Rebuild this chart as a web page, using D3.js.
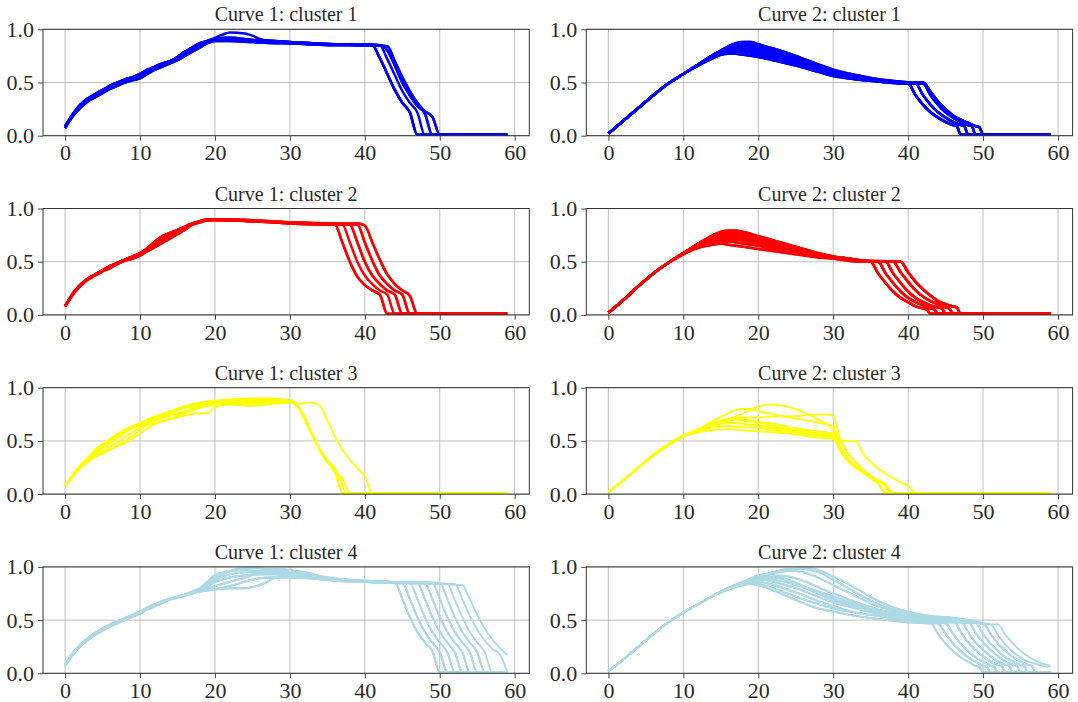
<!DOCTYPE html>
<html>
<head>
<meta charset="utf-8">
<script src="https://cdn.jsdelivr.net/npm/d3@7"></script>
<style>
body { margin: 0; background: #fff; }
svg text { font-family: "Liberation Serif", "DejaVu Serif", serif; }
</style>
</head>
<body>
<svg id="chart" width="1078" height="702"></svg>
<script>
const xTicks = [0, 10, 20, 30, 40, 50, 60];
const yTicks = [0, 0.5, 1];
const yTickLabels = ["0.0", "0.5", "1.0"];
const titles = [
    "Curve 1: cluster 1", "Curve 2: cluster 1",
    "Curve 1: cluster 2", "Curve 2: cluster 2",
    "Curve 1: cluster 3", "Curve 2: cluster 3",
    "Curve 1: cluster 4", "Curve 2: cluster 4"
];
const clusterColors = ["#0000ff", "#ff0000", "#ffff00", "#add8e6"];

//curves are a head (rise + plateau) joined to a tail (the drop)
//cluster 1
const c1k1Heads = [
    [[0,0.08],[1,0.19],[2,0.27],[3,0.33],[4,0.37],[5,0.41],[6,0.45],[7,0.48],[8,0.51],[9,0.53],[10,0.56],[11,0.6],[12,0.63],[13,0.66],[14,0.69],[15,0.72],[16,0.77],[17,0.81],[18,0.85],[19,0.88],[20,0.9],[22,0.9],[25,0.89],[28,0.88],[30,0.87],[33,0.86],[36,0.86],[40,0.85]],
    [[0,0.09],[1,0.2],[2,0.29],[3,0.35],[4,0.39],[5,0.43],[6,0.47],[7,0.5],[8,0.53],[9,0.55],[10,0.58],[11,0.62],[12,0.65],[13,0.68],[14,0.7],[15,0.74],[16,0.79],[17,0.83],[18,0.87],[19,0.89],[20,0.91],[22,0.92],[25,0.9],[28,0.89],[30,0.88],[33,0.87],[36,0.86],[40,0.86]],
    [[0,0.08],[1,0.19],[2,0.28],[3,0.34],[4,0.38],[5,0.42],[6,0.46],[7,0.49],[8,0.52],[9,0.54],[10,0.57],[11,0.61],[12,0.64],[13,0.67],[14,0.7],[15,0.73],[16,0.78],[17,0.82],[18,0.86],[19,0.89],[20,0.92],[21,0.95],[22,0.97],[24,0.96],[25,0.94],[26,0.91],[28,0.88],[30,0.87],[33,0.86],[36,0.86],[40,0.85]],
    [[0,0.07],[1,0.18],[2,0.26],[3,0.32],[4,0.36],[5,0.4],[6,0.44],[7,0.47],[8,0.5],[9,0.52],[10,0.54],[11,0.58],[12,0.62],[13,0.65],[14,0.68],[15,0.71],[16,0.75],[17,0.79],[18,0.83],[19,0.87],[20,0.89],[22,0.89],[25,0.88],[28,0.87],[30,0.87],[33,0.86],[36,0.85],[40,0.85]]
];
const c1k1Tails = [
    [[41,0.85],[42,0.73],[43,0.58],[44,0.43],[45,0.31],[46,0.22],[47,0.01],[59,0.01]],
    [[42,0.85],[43,0.72],[44,0.57],[45,0.42],[46,0.31],[47,0.22],[48,0.01],[59,0.01]],
    [[42,0.85],[43,0.8],[44,0.66],[45,0.5],[46,0.38],[47,0.28],[48,0.21],[49,0.01],[59,0.01]],
    [[43,0.84],[44,0.7],[45,0.55],[46,0.42],[47,0.31],[48,0.23],[49,0.18],[50,0.01],[59,0.01]]
];
const c1k1Pairs = [[0,0],[1,1],[2,2],[3,3],[0,2],[1,3],[3,0],[1,0]];

const c2k1Heads = [
    [[0,0.02],[2,0.14],[4,0.26],[6,0.38],[8,0.49],[10,0.58],[12,0.66],[14,0.73],[15,0.76],[16,0.77],[17,0.77],[18,0.76],[20,0.74],[22,0.71],[25,0.66],[28,0.6],[30,0.56],[33,0.53],[36,0.51],[40,0.49]],
    [[0,0.02],[2,0.14],[4,0.26],[6,0.38],[8,0.49],[10,0.58],[12,0.67],[14,0.76],[16,0.84],[17,0.87],[18,0.88],[19,0.88],[20,0.86],[22,0.82],[25,0.75],[28,0.67],[30,0.62],[33,0.57],[36,0.53],[40,0.5]],
    [[0,0.02],[2,0.14],[4,0.26],[6,0.38],[8,0.49],[10,0.58],[12,0.67],[14,0.75],[16,0.8],[17,0.82],[18,0.82],[20,0.8],[22,0.76],[25,0.7],[28,0.63],[30,0.59],[33,0.55],[36,0.52],[40,0.49]],
    [[0,0.02],[2,0.14],[4,0.26],[6,0.38],[8,0.49],[10,0.58],[12,0.67],[14,0.76],[16,0.82],[17,0.85],[18,0.85],[20,0.83],[22,0.79],[25,0.72],[28,0.65],[30,0.6],[33,0.56],[36,0.52],[40,0.5]],
    [[0,0.02],[2,0.14],[4,0.26],[6,0.38],[8,0.49],[10,0.58],[12,0.66],[14,0.74],[16,0.78],[17,0.79],[18,0.79],[20,0.77],[22,0.73],[25,0.68],[28,0.61],[30,0.57],[33,0.54],[36,0.51],[40,0.49]],
    [[0,0.02],[2,0.14],[4,0.26],[6,0.38],[8,0.49],[10,0.58],[12,0.67],[14,0.75],[16,0.81],[17,0.83],[18,0.84],[20,0.82],[22,0.78],[25,0.71],[28,0.64],[30,0.6],[33,0.55],[36,0.52],[40,0.49]],
    [[0,0.02],[2,0.14],[4,0.26],[6,0.38],[8,0.49],[10,0.58],[12,0.67],[14,0.76],[16,0.83],[17,0.86],[18,0.87],[19,0.86],[20,0.85],[22,0.81],[25,0.74],[28,0.66],[30,0.61],[33,0.56],[36,0.53],[40,0.5]],
    [[0,0.02],[2,0.14],[4,0.26],[6,0.38],[8,0.49],[10,0.58],[12,0.66],[14,0.74],[16,0.79],[17,0.8],[18,0.8],[20,0.78],[22,0.74],[25,0.69],[28,0.62],[30,0.58],[33,0.54],[36,0.51],[40,0.49]],
    [[0,0.02],[2,0.14],[4,0.26],[6,0.38],[8,0.49],[10,0.58],[12,0.66],[14,0.74],[15,0.77],[16,0.78],[17,0.78],[18,0.77],[20,0.75],[22,0.72],[25,0.67],[28,0.61],[30,0.57],[33,0.53],[36,0.51],[40,0.49]]
];
const c2k1Tails = [
    [[41,0.38],[42,0.29],[43,0.22],[44,0.17],[45,0.13],[46,0.1],[46.5,0.09],[47,0.01],[59,0.01]],
    [[41,0.49],[42,0.38],[43,0.29],[44,0.22],[45,0.17],[46,0.13],[47,0.1],[47.5,0.09],[48,0.01],[59,0.01]],
    [[42,0.49],[43,0.38],[44,0.29],[45,0.22],[46,0.17],[47,0.13],[48,0.1],[48.5,0.09],[49,0.01],[59,0.01]],
    [[42,0.5],[43,0.41],[44,0.32],[45,0.25],[46,0.19],[47,0.15],[48,0.12],[49,0.09],[49.5,0.08],[50,0.01],[59,0.01]]
];
const c2k1Pairs = [[0,0],[1,3],[2,1],[3,2],[4,0],[1,1],[2,2],[0,3],[3,0],[4,3],[5,1],[6,2],[7,0],[8,3]];

//cluster 2
const c1k2Heads = [
    [[0,0.08],[1,0.19],[2,0.27],[3,0.33],[4,0.37],[5,0.41],[6,0.44],[7,0.48],[8,0.51],[9,0.53],[10,0.56],[11,0.6],[12,0.64],[13,0.68],[14,0.72],[15,0.76],[16,0.8],[17,0.85],[18,0.87],[19,0.89],[20,0.89],[25,0.88],[30,0.86],[35,0.85]],
    [[0,0.08],[1,0.2],[2,0.28],[3,0.34],[4,0.38],[5,0.42],[6,0.46],[7,0.49],[8,0.52],[9,0.55],[10,0.58],[11,0.63],[12,0.69],[13,0.74],[14,0.77],[15,0.8],[16,0.83],[17,0.86],[18,0.88],[19,0.9],[20,0.9],[25,0.89],[30,0.87],[35,0.86]],
    [[0,0.08],[1,0.19],[2,0.28],[3,0.34],[4,0.38],[5,0.42],[6,0.45],[7,0.49],[8,0.52],[9,0.54],[10,0.57],[11,0.61],[12,0.66],[13,0.71],[14,0.75],[15,0.78],[16,0.82],[17,0.85],[18,0.88],[19,0.89],[20,0.9],[25,0.88],[30,0.87],[35,0.85]]
];
const c1k2Tails = [
    [[36,0.85],[37,0.68],[38,0.5],[39,0.36],[40,0.28],[41,0.23],[42,0.19],[43,0.01],[59,0.01]],
    [[37,0.85],[38,0.68],[39,0.5],[40,0.37],[41,0.29],[42,0.23],[43,0.19],[44,0.01],[59,0.01]],
    [[38,0.85],[39,0.68],[40,0.5],[41,0.37],[42,0.29],[43,0.23],[44,0.19],[45,0.01],[59,0.01]],
    [[39,0.85],[40,0.68],[41,0.51],[42,0.37],[43,0.29],[44,0.23],[45,0.19],[46,0.01],[59,0.01]],
    [[39,0.86],[40,0.84],[41,0.68],[42,0.52],[43,0.38],[44,0.29],[45,0.23],[46,0.18],[47,0.01],[59,0.01]]
];
const c1k2Pairs = [[0,0],[1,1],[2,2],[0,3],[1,4],[2,0],[1,2],[0,4],[2,3]];

const c2k2Heads = [
    [[0,0.02],[2,0.14],[4,0.27],[6,0.39],[8,0.49],[10,0.57],[12,0.63],[14,0.66],[15,0.67],[16,0.66],[18,0.64],[20,0.62],[22,0.6],[25,0.57],[28,0.54],[30,0.53],[32,0.51],[34,0.5]],
    [[0,0.02],[2,0.14],[4,0.27],[6,0.39],[8,0.49],[10,0.58],[12,0.67],[14,0.75],[15,0.78],[16,0.79],[17,0.79],[18,0.78],[20,0.74],[22,0.7],[25,0.64],[28,0.58],[30,0.55],[32,0.53],[34,0.51]],
    [[0,0.02],[2,0.14],[4,0.27],[6,0.39],[8,0.49],[10,0.58],[12,0.65],[14,0.71],[15,0.73],[16,0.73],[17,0.73],[18,0.72],[20,0.69],[22,0.66],[25,0.61],[28,0.56],[30,0.54],[32,0.52],[34,0.5]],
    [[0,0.02],[2,0.14],[4,0.27],[6,0.39],[8,0.49],[10,0.58],[12,0.66],[14,0.73],[15,0.76],[16,0.76],[17,0.76],[18,0.75],[20,0.72],[22,0.68],[25,0.62],[28,0.57],[30,0.54],[32,0.52],[34,0.51]],
    [[0,0.02],[2,0.14],[4,0.27],[6,0.39],[8,0.49],[10,0.57],[12,0.64],[14,0.68],[15,0.69],[16,0.69],[18,0.67],[20,0.65],[22,0.62],[25,0.59],[28,0.55],[30,0.53],[32,0.52],[34,0.5]],
    [[0,0.02],[2,0.14],[4,0.27],[6,0.39],[8,0.49],[10,0.57],[12,0.65],[14,0.7],[15,0.71],[16,0.71],[18,0.7],[20,0.67],[22,0.64],[25,0.6],[28,0.56],[30,0.54],[32,0.52],[34,0.5]],
    [[0,0.02],[2,0.14],[4,0.27],[6,0.39],[8,0.49],[10,0.58],[12,0.66],[14,0.72],[15,0.74],[16,0.75],[17,0.75],[18,0.74],[20,0.71],[22,0.67],[25,0.62],[28,0.57],[30,0.54],[32,0.52],[34,0.51]],
    [[0,0.02],[2,0.14],[4,0.27],[6,0.39],[8,0.49],[10,0.58],[12,0.67],[14,0.74],[15,0.77],[16,0.78],[17,0.78],[18,0.77],[20,0.73],[22,0.69],[25,0.63],[28,0.58],[30,0.55],[32,0.53],[34,0.51]]
];
const c2k2Tails = [
    [[35,0.5],[36,0.39],[37,0.3],[38,0.22],[39,0.16],[40,0.12],[41,0.08],[42,0.06],[42.5,0.05],[43,0.01],[59,0.01]],
    [[36,0.5],[37,0.39],[38,0.3],[39,0.22],[40,0.16],[41,0.12],[42,0.09],[43,0.06],[43.5,0.05],[44,0.01],[59,0.01]],
    [[37,0.5],[38,0.39],[39,0.3],[40,0.22],[41,0.16],[42,0.12],[43,0.09],[44,0.07],[44.5,0.06],[45,0.01],[59,0.01]],
    [[38,0.5],[39,0.4],[40,0.31],[41,0.23],[42,0.17],[43,0.13],[44,0.1],[45,0.07],[45.5,0.06],[46,0.01],[59,0.01]],
    [[39,0.5],[40,0.4],[41,0.31],[42,0.24],[43,0.18],[44,0.13],[45,0.1],[46,0.08],[46.5,0.07],[47,0.01],[59,0.01]]
];
const c2k2Pairs = [[0,0],[1,1],[2,2],[3,3],[4,4],[1,0],[2,3],[3,1],[0,4],[4,2],[1,4],[2,0],[5,1],[6,3],[7,2],[5,4]];

//cluster 3
const c1k3Heads = [
    [[0,0.08],[1,0.18],[2,0.27],[3,0.34],[4,0.42],[5,0.47],[6,0.52],[7,0.57],[8,0.61],[9,0.64],[10,0.67],[12,0.73],[14,0.78],[16,0.83],[18,0.86],[20,0.88],[22,0.89],[25,0.9],[27,0.9],[29,0.89],[30,0.88]],
    [[0,0.08],[1,0.17],[2,0.26],[3,0.32],[4,0.38],[5,0.43],[6,0.48],[7,0.53],[8,0.58],[9,0.62],[10,0.66],[12,0.71],[14,0.76],[16,0.81],[18,0.84],[20,0.86],[22,0.87],[25,0.88],[28,0.88],[30,0.87]],
    [[0,0.08],[1,0.16],[2,0.24],[3,0.3],[4,0.35],[5,0.38],[6,0.42],[7,0.46],[8,0.5],[9,0.55],[10,0.61],[11,0.65],[12,0.67],[14,0.7],[16,0.74],[18,0.76],[19,0.76],[20,0.82],[22,0.84],[25,0.83],[28,0.85],[30,0.86]],
    [[0,0.08],[1,0.17],[2,0.25],[3,0.31],[4,0.36],[5,0.4],[6,0.45],[7,0.49],[8,0.54],[9,0.58],[10,0.63],[12,0.69],[14,0.74],[16,0.78],[18,0.82],[20,0.84],[22,0.85],[25,0.86],[28,0.86],[30,0.86]],
    [[0,0.08],[1,0.18],[2,0.27],[3,0.33],[4,0.39],[5,0.45],[6,0.5],[7,0.55],[8,0.59],[9,0.62],[10,0.65],[12,0.7],[14,0.74],[16,0.77],[17,0.81],[18,0.83],[20,0.85],[22,0.85],[25,0.85],[28,0.86],[30,0.88]],
    [[0,0.08],[1,0.17],[2,0.25],[3,0.31],[4,0.36],[5,0.39],[6,0.42],[7,0.45],[8,0.48],[9,0.52],[10,0.57],[12,0.66],[14,0.71],[16,0.76],[18,0.81],[20,0.84],[23,0.86],[26,0.87],[30,0.88]],
    [[0,0.08],[1,0.18],[2,0.26],[3,0.33],[4,0.4],[5,0.46],[6,0.51],[7,0.56],[8,0.6],[9,0.63],[10,0.66],[12,0.72],[14,0.77],[16,0.82],[18,0.85],[20,0.87],[22,0.88],[24,0.89],[27,0.89],[30,0.88]]
];
const c1k3Tails = [
    [[31,0.84],[32,0.72],[33,0.56],[34,0.41],[35,0.3],[36,0.22],[37,0.01],[59,0.01]],
    [[31,0.83],[32,0.7],[33,0.55],[34,0.41],[35,0.31],[36,0.24],[37,0.01],[59,0.01]],
    [[31,0.83],[32,0.7],[33,0.55],[34,0.42],[35,0.32],[36,0.2],[37,0.15],[38,0.01],[59,0.01]],
    [[31,0.85],[33,0.86],[34,0.83],[35,0.69],[36,0.54],[37,0.42],[38,0.32],[39,0.24],[40,0.17],[41,0.01],[59,0.01]],
    [[31,0.84],[32,0.71],[33,0.56],[34,0.42],[35,0.31],[36,0.23],[36.5,0.18],[37.5,0.01],[59,0.01]]
];
const c1k3Pairs = [[0,0],[1,1],[2,3],[3,2],[4,0],[5,4],[6,1]];

const c2k3Heads = [
    [[0,0.02],[2,0.13],[4,0.25],[6,0.36],[8,0.46],[10,0.54],[12,0.58],[14,0.6],[16,0.61],[18,0.6],[20,0.59],[22,0.58],[25,0.56],[28,0.53],[30,0.52]],
    [[0,0.02],[2,0.13],[4,0.25],[6,0.36],[8,0.46],[10,0.54],[12,0.59],[14,0.63],[16,0.64],[18,0.63],[20,0.62],[22,0.6],[25,0.58],[28,0.55],[30,0.53]],
    [[0,0.02],[2,0.13],[4,0.25],[6,0.37],[8,0.47],[10,0.55],[12,0.6],[14,0.65],[16,0.67],[18,0.66],[20,0.64],[22,0.62],[25,0.6],[28,0.57],[30,0.55]],
    [[0,0.02],[2,0.13],[4,0.25],[6,0.37],[8,0.47],[10,0.55],[12,0.61],[14,0.67],[16,0.7],[17,0.71],[18,0.7],[20,0.68],[22,0.66],[25,0.62],[28,0.59],[30,0.57]],
    [[0,0.02],[2,0.13],[4,0.25],[6,0.37],[8,0.47],[10,0.55],[12,0.61],[14,0.67],[16,0.71],[18,0.72],[20,0.72],[22,0.73],[24,0.73],[26,0.74],[28,0.75],[30,0.74]],
    [[0,0.02],[2,0.13],[4,0.25],[6,0.37],[8,0.47],[10,0.55],[12,0.61],[14,0.69],[16,0.76],[17,0.79],[18,0.8],[19,0.8],[20,0.78],[22,0.75],[25,0.71],[28,0.67],[30,0.64]],
    [[0,0.02],[2,0.13],[4,0.25],[6,0.37],[8,0.47],[10,0.55],[12,0.6],[14,0.66],[16,0.7],[18,0.76],[20,0.82],[21,0.84],[22,0.84],[24,0.82],[26,0.77],[28,0.7],[30,0.6]],
    [[0,0.02],[2,0.13],[4,0.25],[6,0.36],[8,0.46],[10,0.54],[12,0.6],[14,0.65],[16,0.69],[17,0.7],[18,0.69],[20,0.67],[22,0.64],[25,0.6],[28,0.56],[30,0.54]]
];
const c2k3Tails = [
    [[31,0.4],[32,0.31],[33,0.25],[34,0.2],[35,0.15],[36,0.1],[37,0.01],[59,0.01]],
    [[31,0.43],[32,0.33],[33,0.26],[34,0.21],[35,0.16],[36,0.12],[37,0.08],[37.5,0.01],[59,0.01]],
    [[31,0.5],[32,0.38],[33,0.3],[34,0.23],[35,0.17],[36,0.13],[37,0.09],[38,0.01],[59,0.01]],
    [[31,0.5],[33,0.5],[34,0.38],[35,0.3],[36,0.24],[37,0.19],[38,0.15],[39,0.11],[40,0.08],[41,0.01],[59,0.01]]
];
const c2k3Pairs = [[0,0],[1,1],[2,0],[3,2],[4,2],[5,1],[6,0],[7,3],[2,1]];

//cluster 4
const c1k4Heads = [
    [[0,0.07],[1,0.18],[2,0.26],[3,0.32],[4,0.37],[5,0.41],[6,0.45],[7,0.48],[8,0.51],[9,0.54],[10,0.57],[11,0.61],[12,0.64],[13,0.67],[14,0.7],[15,0.72],[16,0.74],[17,0.76],[18,0.79],[19,0.84],[20,0.89],[21,0.93],[22,0.96],[23,0.98],[25,0.99],[27,0.98],[30,0.95],[33,0.92],[36,0.89],[40,0.87],[43,0.86]],
    [[0,0.07],[1,0.17],[2,0.25],[3,0.31],[4,0.36],[5,0.4],[6,0.44],[7,0.47],[8,0.5],[9,0.53],[10,0.56],[11,0.6],[12,0.63],[13,0.66],[14,0.69],[15,0.71],[16,0.73],[17,0.75],[18,0.77],[20,0.79],[22,0.8],[24,0.8],[26,0.83],[27,0.86],[28,0.9],[30,0.91],[33,0.9],[36,0.88],[40,0.86],[43,0.85]],
    [[0,0.08],[1,0.19],[2,0.27],[3,0.33],[4,0.38],[5,0.42],[6,0.46],[7,0.49],[8,0.52],[9,0.55],[10,0.58],[11,0.62],[12,0.65],[13,0.68],[14,0.7],[15,0.72],[16,0.74],[17,0.76],[18,0.78],[20,0.86],[22,0.9],[24,0.92],[26,0.93],[28,0.93],[30,0.92],[33,0.9],[36,0.88],[40,0.86],[43,0.85]],
    [[0,0.07],[1,0.18],[2,0.26],[3,0.32],[4,0.37],[5,0.41],[6,0.45],[7,0.48],[8,0.51],[9,0.54],[10,0.57],[11,0.61],[12,0.64],[13,0.67],[14,0.7],[15,0.72],[16,0.74],[17,0.76],[18,0.77],[20,0.79],[22,0.82],[23,0.84],[25,0.88],[27,0.9],[30,0.9],[33,0.89],[36,0.87],[40,0.86],[43,0.85]],
    [[0,0.07],[1,0.18],[2,0.26],[3,0.32],[4,0.37],[5,0.41],[6,0.45],[7,0.48],[8,0.51],[9,0.54],[10,0.57],[11,0.61],[12,0.64],[13,0.67],[14,0.7],[15,0.72],[16,0.74],[17,0.77],[18,0.8],[19,0.86],[20,0.92],[22,0.96],[24,0.97],[26,0.96],[28,0.95],[30,0.93],[33,0.91],[36,0.88],[40,0.86],[43,0.85]],
    [[0,0.07],[1,0.18],[2,0.26],[3,0.32],[4,0.37],[5,0.41],[6,0.45],[7,0.48],[8,0.51],[9,0.54],[10,0.57],[11,0.61],[12,0.64],[13,0.67],[14,0.7],[15,0.72],[16,0.74],[17,0.76],[18,0.78],[20,0.82],[22,0.86],[24,0.9],[26,0.95],[28,0.98],[30,0.97],[32,0.95],[35,0.9],[40,0.87],[43,0.86]],
    [[0,0.08],[1,0.18],[2,0.26],[3,0.32],[4,0.37],[5,0.41],[6,0.45],[7,0.48],[8,0.51],[9,0.54],[10,0.57],[11,0.61],[12,0.64],[13,0.67],[14,0.7],[15,0.72],[16,0.74],[17,0.76],[18,0.79],[20,0.88],[22,0.93],[24,0.95],[26,0.95],[28,0.94],[30,0.93],[33,0.91],[36,0.89],[40,0.87],[43,0.86]]
];
const c1k4Tails = [
    [[44,0.85],[45,0.7],[46,0.53],[47,0.39],[48,0.29],[49,0.21],[50,0.01],[59,0.01]],
    [[45,0.85],[46,0.7],[47,0.53],[48,0.39],[49,0.29],[50,0.2],[51,0.01],[59,0.01]],
    [[46,0.85],[47,0.7],[48,0.53],[49,0.39],[50,0.29],[51,0.2],[52,0.01],[59,0.01]],
    [[47,0.85],[48,0.7],[49,0.53],[50,0.39],[51,0.29],[52,0.2],[53,0.01],[59,0.01]],
    [[48,0.85],[49,0.7],[50,0.53],[51,0.39],[52,0.29],[53,0.2],[54,0.01],[59,0.01]],
    [[49,0.85],[50,0.7],[51,0.53],[52,0.39],[53,0.29],[54,0.2],[55,0.01],[59,0.01]],
    [[50,0.85],[51,0.7],[52,0.53],[53,0.39],[54,0.29],[55,0.2],[56,0.01],[59,0.01]],
    [[51,0.84],[52,0.69],[53,0.53],[54,0.39],[55,0.29],[56,0.2],[57,0.01],[59,0.01]],
    [[52,0.84],[53,0.7],[54,0.54],[55,0.41],[56,0.31],[57,0.23],[58,0.18],[59,0.01]],
    [[53,0.83],[54,0.7],[55,0.55],[56,0.42],[57,0.32],[58,0.24],[59,0.17]]
];
const c1k4Pairs = [[0,0],[1,0],[2,1],[3,1],[4,2],[5,2],[6,3],[0,3],[1,4],[2,4],[3,5],[4,5],[5,6],[6,6],[0,7],[1,8],[2,9],[3,0],[4,1],[5,3]];

const c2k4Heads = [
    [[0,0.02],[2,0.13],[4,0.25],[6,0.37],[8,0.48],[10,0.57],[12,0.65],[14,0.73],[16,0.79],[18,0.83],[19,0.84],[20,0.83],[22,0.78],[24,0.72],[26,0.66],[28,0.61],[30,0.58],[33,0.54],[36,0.51],[40,0.48],[43,0.47]],
    [[0,0.02],[2,0.13],[4,0.25],[6,0.37],[8,0.48],[10,0.57],[12,0.65],[14,0.73],[16,0.8],[18,0.86],[20,0.91],[22,0.95],[24,0.97],[26,0.99],[27,0.99],[28,0.97],[30,0.91],[32,0.84],[34,0.76],[36,0.68],[38,0.62],[40,0.58],[43,0.54],[46,0.52]],
    [[0,0.02],[2,0.13],[4,0.25],[6,0.37],[8,0.48],[10,0.57],[12,0.65],[14,0.73],[16,0.8],[18,0.86],[20,0.9],[22,0.94],[24,0.96],[25,0.96],[26,0.95],[28,0.9],[30,0.83],[32,0.76],[34,0.69],[36,0.63],[38,0.59],[40,0.56],[43,0.52],[46,0.51]],
    [[0,0.02],[2,0.13],[4,0.25],[6,0.37],[8,0.48],[10,0.57],[12,0.65],[14,0.73],[16,0.8],[18,0.86],[20,0.92],[21,0.93],[22,0.92],[24,0.88],[26,0.82],[28,0.76],[30,0.7],[33,0.63],[36,0.57],[40,0.52],[43,0.5]],
    [[0,0.02],[2,0.13],[4,0.25],[6,0.37],[8,0.48],[10,0.57],[12,0.65],[14,0.73],[16,0.8],[18,0.85],[20,0.88],[22,0.86],[25,0.8],[28,0.72],[30,0.67],[33,0.61],[36,0.56],[40,0.51],[43,0.49]],
    [[0,0.02],[2,0.13],[4,0.25],[6,0.37],[8,0.48],[10,0.57],[12,0.65],[14,0.73],[16,0.79],[18,0.84],[20,0.86],[22,0.83],[25,0.76],[28,0.68],[30,0.63],[33,0.57],[36,0.54],[40,0.5],[43,0.48]],
    [[0,0.02],[2,0.13],[4,0.25],[6,0.37],[8,0.48],[10,0.57],[12,0.65],[14,0.73],[16,0.8],[18,0.86],[20,0.9],[22,0.9],[24,0.87],[26,0.81],[28,0.75],[30,0.69],[33,0.63],[36,0.58],[40,0.54],[44,0.5],[48,0.48],[51,0.46]],
    [[0,0.02],[2,0.13],[4,0.25],[6,0.37],[8,0.48],[10,0.57],[12,0.65],[14,0.73],[16,0.79],[18,0.84],[19,0.85],[20,0.84],[22,0.8],[25,0.72],[28,0.65],[30,0.61],[35,0.55],[40,0.5],[43,0.48]],
    [[0,0.02],[2,0.13],[4,0.25],[6,0.37],[8,0.48],[10,0.57],[12,0.65],[14,0.73],[16,0.8],[18,0.86],[20,0.91],[22,0.95],[24,0.98],[26,0.98],[28,0.95],[30,0.88],[32,0.8],[34,0.72],[36,0.65],[38,0.6],[40,0.57],[43,0.53],[46,0.52]],
    [[0,0.02],[2,0.13],[4,0.25],[6,0.37],[8,0.48],[10,0.57],[12,0.65],[14,0.73],[16,0.8],[18,0.86],[20,0.9],[22,0.92],[24,0.91],[26,0.87],[28,0.81],[30,0.75],[33,0.67],[36,0.6],[40,0.55],[43,0.52],[46,0.5]],
    [[0,0.02],[2,0.13],[4,0.25],[6,0.37],[8,0.48],[10,0.57],[12,0.65],[14,0.73],[16,0.8],[18,0.86],[20,0.89],[22,0.88],[25,0.83],[28,0.77],[30,0.72],[33,0.65],[36,0.59],[40,0.54],[43,0.51]]
];
const c2k4Tails = [
    [[44,0.37],[45,0.28],[46,0.21],[47,0.15],[48,0.11],[49,0.07],[49.5,0.06],[50,0.01],[59,0.01]],
    [[44,0.47],[45,0.37],[46,0.28],[47,0.21],[48,0.15],[49,0.11],[50,0.07],[50.5,0.06],[51,0.01],[59,0.01]],
    [[45,0.47],[46,0.37],[47,0.28],[48,0.21],[49,0.15],[50,0.11],[51,0.07],[51.5,0.06],[52,0.01],[59,0.01]],
    [[46,0.5],[47,0.39],[48,0.29],[49,0.22],[50,0.16],[51,0.11],[52,0.08],[52.5,0.07],[53,0.01],[59,0.01]],
    [[47,0.5],[48,0.39],[49,0.29],[50,0.22],[51,0.16],[52,0.11],[53,0.08],[53.5,0.07],[54,0.01],[59,0.01]],
    [[48,0.49],[49,0.38],[50,0.29],[51,0.22],[52,0.16],[53,0.11],[54,0.08],[54.5,0.07],[55,0.01],[59,0.01]],
    [[49,0.48],[50,0.37],[51,0.28],[52,0.21],[53,0.15],[54,0.11],[55,0.08],[55.5,0.07],[56,0.01],[59,0.01]],
    [[50,0.47],[51,0.37],[52,0.28],[53,0.21],[54,0.15],[55,0.11],[56,0.08],[56.5,0.07],[57,0.01],[59,0.01]],
    [[51,0.46],[52,0.36],[53,0.27],[54,0.2],[55,0.15],[56,0.11],[57,0.09],[58,0.07],[59,0.06]],
    [[52,0.46],[53,0.36],[54,0.28],[55,0.21],[56,0.16],[57,0.12],[58,0.09],[59,0.07]]
];
const c2k4Pairs = [[0,0],[5,0],[7,1],[4,1],[0,2],[5,2],[3,3],[6,3],[2,4],[4,4],[1,5],[3,5],[2,6],[6,6],[1,7],[7,7],[6,8],[6,9],[0,1],[5,3],[8,4],[8,6],[9,3],[9,5],[10,2],[10,7]];

//layout, in pixels
const colLeft = [43, 586.3];
const rowTop = [29.3, 208.5, 387.7, 566.9];
const axW = 486.3;
const axH = 106.4;

function buildCurves(heads, tails, pairs) {
    return pairs.map(([h, t]) => heads[h].filter(p => p[0] < tails[t][0][0]).concat(tails[t]));
};

const panels = [
    { curves: buildCurves(c1k1Heads, c1k1Tails, c1k1Pairs), color: clusterColors[0], lw: 2.5 },
    { curves: buildCurves(c2k1Heads, c2k1Tails, c2k1Pairs), color: clusterColors[0], lw: 2.5 },
    { curves: buildCurves(c1k2Heads, c1k2Tails, c1k2Pairs), color: clusterColors[1], lw: 2.5 },
    { curves: buildCurves(c2k2Heads, c2k2Tails, c2k2Pairs), color: clusterColors[1], lw: 2.5 },
    { curves: buildCurves(c1k3Heads, c1k3Tails, c1k3Pairs), color: clusterColors[2], lw: 1.8 },
    { curves: buildCurves(c2k3Heads, c2k3Tails, c2k3Pairs), color: clusterColors[2], lw: 1.8 },
    { curves: buildCurves(c1k4Heads, c1k4Tails, c1k4Pairs), color: clusterColors[3], lw: 1.9 },
    { curves: buildCurves(c2k4Heads, c2k4Tails, c2k4Pairs), color: clusterColors[3], lw: 1.9 }
];

const svg = d3.select("#chart");
svg.append("rect").attr("width", 1078).attr("height", 702).attr("fill", "#fff");

const x = d3.scaleLinear().domain([-2.95, 61.95]).range([0, axW]);
const y = d3.scaleLinear().domain([0, 1]).range([axH, 0]);
const line = d3.line()
    .x(d => x(d[0]))
    .y(d => y(d[1]))
    .curve(d3.curveMonotoneX);

panels.forEach((p, i) => {
    const col = i % 2, row = Math.floor(i / 2);
    const g = svg.append("g")
        .attr("transform", `translate(${colLeft[col]},${rowTop[row]})`);

    //grid
    g.selectAll("line.vgrid").data(xTicks).enter()
      .append("line")
        .attr("x1", d => x(d)).attr("x2", d => x(d))
        .attr("y1", 0).attr("y2", axH)
        .attr("stroke", "#b0b0b0").attr("stroke-width", 0.8);
    g.selectAll("line.hgrid").data(yTicks).enter()
      .append("line")
        .attr("x1", 0).attr("x2", axW)
        .attr("y1", d => y(d)).attr("y2", d => y(d))
        .attr("stroke", "#b0b0b0").attr("stroke-width", 0.8);

    g.append("clipPath").attr("id", "clip" + i)
      .append("rect").attr("width", axW).attr("height", axH);

    g.append("g").attr("clip-path", `url(#clip${i})`)
      .selectAll("path").data(p.curves).enter()
      .append("path")
        .attr("d", line)
        .attr("fill", "none")
        .attr("stroke", p.color)
        .attr("stroke-width", p.lw)
        .attr("stroke-linejoin", "round");

    //axes
    const xAxis = g.append("g")
        .attr("transform", `translate(0,${axH})`)
        .call(d3.axisBottom(x).tickValues(xTicks).tickSize(5).tickPadding(4).tickSizeOuter(0));
    const yAxis = g.append("g")
        .call(d3.axisLeft(y).tickValues(yTicks).tickFormat((d, k) => yTickLabels[k]).tickSize(5).tickPadding(4).tickSizeOuter(0));
    [xAxis, yAxis].forEach(a => {
        a.select(".domain").remove();
        a.selectAll(".tick line").attr("stroke", "#333").attr("stroke-width", 0.9);
        a.selectAll(".tick text")
            .attr("fill", "#2a2a2a")
            .style("font-family", '"Liberation Serif", serif')
            .style("font-size", "22px");
    });

    g.append("rect")
        .attr("width", axW).attr("height", axH)
        .attr("fill", "none")
        .attr("stroke", "#333")
        .attr("stroke-width", 1);

    g.append("text")
        .attr("x", axW / 2)
        .attr("y", -8)
        .attr("text-anchor", "middle")
        .attr("fill", "#2a2a2a")
        .style("font-size", "20px")
        .text(titles[i]);
});
</script>
</body>
</html>
